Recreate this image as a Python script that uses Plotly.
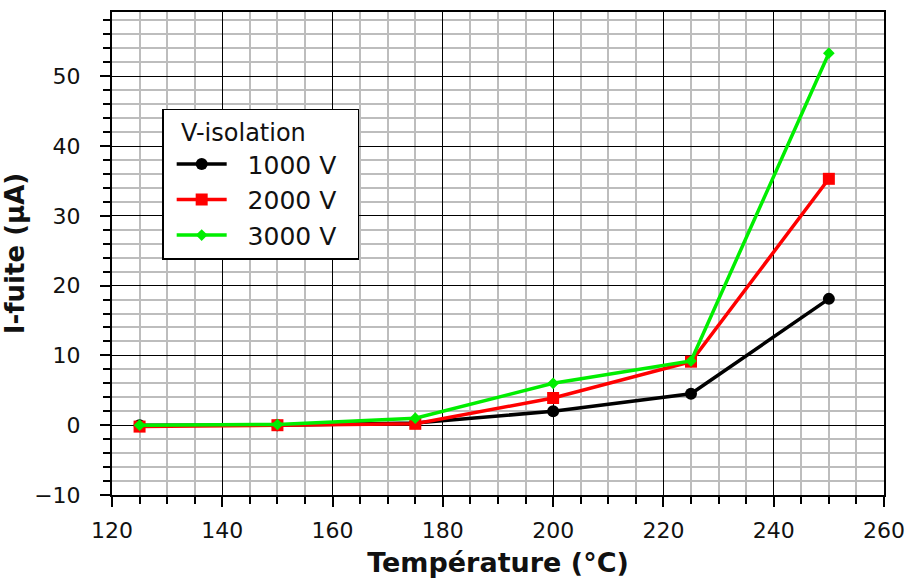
import plotly.graph_objects as go

temperature = [125, 150, 175, 200, 225, 250]
i_1000v = [0.0, 0.0, 0.3, 2.0, 4.5, 18.1]
i_2000v = [-0.2, 0.0, 0.2, 3.9, 9.1, 35.3]
i_3000v = [0.0, 0.1, 1.0, 6.0, 9.2, 53.3]
series_names = ['1000 V', '2000 V', '3000 V']

fig = go.Figure()
styles = [('black', 'circle', 12), ('#ff0000', 'square', 12), ('#00ee00', 'diamond', 9)]
for name, vals, (col, sym, sz) in zip(series_names, [i_1000v, i_2000v, i_3000v], styles):
    # nbsp padding pushes the legend text away from the symbol like in the original
    fig.add_trace(go.Scatter(x=temperature, y=vals, name='\u00a0\u00a0' + name + '\u00a0\u00a0',
                             mode='lines+markers',
                             line=dict(color=col, width=3.5),
                             marker=dict(color=col, symbol=sym, size=sz)))

font = 'DejaVu Sans'
axis_common = dict(showline=True, mirror=True, linecolor='black', linewidth=2,
                   showgrid=True, gridcolor='black', gridwidth=1,
                   ticks='outside', ticklen=10, tickcolor='black', tickwidth=1.5,
                   zeroline=False, automargin=False,
                   tickfont=dict(family=font, size=22, color='#111'))

fig.update_xaxes(range=[120, 260], dtick=20, tick0=120, ticklabelstandoff=5,
                 minor=dict(dtick=5, showgrid=True, gridcolor='#bdbdbd', gridwidth=1.5,
                            ticks='outside', ticklen=7, tickcolor='black'),
                 title=dict(text='<b>Température (°C)</b>', font=dict(family=font, size=27, color='#111'),
                            standoff=12),
                 **axis_common)
fig.update_yaxes(range=[-10, 59.2], dtick=10, tick0=0, ticklabelstandoff=15,
                 minor=dict(dtick=2, showgrid=True, gridcolor='#bdbdbd', gridwidth=1.5,
                            ticks='outside', ticklen=7, tickcolor='black'),
                 title=dict(text='<b>I-fuite (µA)</b>', font=dict(family=font, size=26, color='#111'),
                            standoff=3),
                 **axis_common)

fig.update_layout(width=908, height=578, plot_bgcolor='white', paper_bgcolor='white',
                  margin=dict(l=112, r=24, t=12, b=83),
                  legend=dict(title=dict(text='\u00a0\u00a0V-isolation', font=dict(family=font, size=24, color='#111')),
                              font=dict(family=font, size=25, color='#111'),
                              x=0.065, y=0.80, xanchor='left', yanchor='top',
                              bgcolor='white', bordercolor='black', borderwidth=1.5,
                              itemwidth=50, indentation=8, tracegroupgap=0))

# drop the browser's default body margin so the figure fills the window exactly
fig.write_html('out.html', config={'displayModeBar': False},
               post_script="document.body.style.margin='0';")
